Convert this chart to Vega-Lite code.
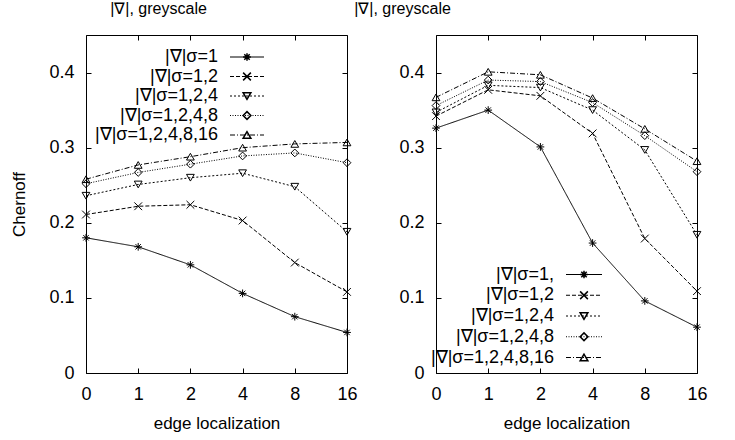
{
  "$schema": "https://vega.github.io/schema/vega-lite/v6.json",
  "background": "white",
  "padding": {"left": 10, "top": 0, "right": 10, "bottom": 5},
  "bounds": "flush",
  "spacing": 89,
  "resolve": {
    "scale": {"strokeDash": "independent", "shape": "independent"},
    "legend": {"strokeDash": "independent", "shape": "independent"}
  },
  "datasets": {
    "left": [
      {"loc": "0", "sigma": "1", "chernoff": 0.180},
      {"loc": "1", "sigma": "1", "chernoff": 0.168},
      {"loc": "2", "sigma": "1", "chernoff": 0.144},
      {"loc": "4", "sigma": "1", "chernoff": 0.106},
      {"loc": "8", "sigma": "1", "chernoff": 0.075},
      {"loc": "16", "sigma": "1", "chernoff": 0.054},
      {"loc": "0", "sigma": "1,2", "chernoff": 0.211},
      {"loc": "1", "sigma": "1,2", "chernoff": 0.222},
      {"loc": "2", "sigma": "1,2", "chernoff": 0.224},
      {"loc": "4", "sigma": "1,2", "chernoff": 0.203},
      {"loc": "8", "sigma": "1,2", "chernoff": 0.147},
      {"loc": "16", "sigma": "1,2", "chernoff": 0.108},
      {"loc": "0", "sigma": "1,2,4", "chernoff": 0.236},
      {"loc": "1", "sigma": "1,2,4", "chernoff": 0.251},
      {"loc": "2", "sigma": "1,2,4", "chernoff": 0.260},
      {"loc": "4", "sigma": "1,2,4", "chernoff": 0.266},
      {"loc": "8", "sigma": "1,2,4", "chernoff": 0.248},
      {"loc": "16", "sigma": "1,2,4", "chernoff": 0.188},
      {"loc": "0", "sigma": "1,2,4,8", "chernoff": 0.252},
      {"loc": "1", "sigma": "1,2,4,8", "chernoff": 0.267},
      {"loc": "2", "sigma": "1,2,4,8", "chernoff": 0.278},
      {"loc": "4", "sigma": "1,2,4,8", "chernoff": 0.289},
      {"loc": "8", "sigma": "1,2,4,8", "chernoff": 0.293},
      {"loc": "16", "sigma": "1,2,4,8", "chernoff": 0.280},
      {"loc": "0", "sigma": "1,2,4,8,16", "chernoff": 0.258},
      {"loc": "1", "sigma": "1,2,4,8,16", "chernoff": 0.277},
      {"loc": "2", "sigma": "1,2,4,8,16", "chernoff": 0.288},
      {"loc": "4", "sigma": "1,2,4,8,16", "chernoff": 0.300},
      {"loc": "8", "sigma": "1,2,4,8,16", "chernoff": 0.305},
      {"loc": "16", "sigma": "1,2,4,8,16", "chernoff": 0.307}
    ],
    "right": [
      {"loc": "0", "sigma": "1", "chernoff": 0.326},
      {"loc": "1", "sigma": "1", "chernoff": 0.350},
      {"loc": "2", "sigma": "1", "chernoff": 0.301},
      {"loc": "4", "sigma": "1", "chernoff": 0.173},
      {"loc": "8", "sigma": "1", "chernoff": 0.096},
      {"loc": "16", "sigma": "1", "chernoff": 0.061},
      {"loc": "0", "sigma": "1,2", "chernoff": 0.342},
      {"loc": "1", "sigma": "1,2", "chernoff": 0.377},
      {"loc": "2", "sigma": "1,2", "chernoff": 0.369},
      {"loc": "4", "sigma": "1,2", "chernoff": 0.319},
      {"loc": "8", "sigma": "1,2", "chernoff": 0.179},
      {"loc": "16", "sigma": "1,2", "chernoff": 0.109},
      {"loc": "0", "sigma": "1,2,4", "chernoff": 0.347},
      {"loc": "1", "sigma": "1,2,4", "chernoff": 0.383},
      {"loc": "2", "sigma": "1,2,4", "chernoff": 0.380},
      {"loc": "4", "sigma": "1,2,4", "chernoff": 0.350},
      {"loc": "8", "sigma": "1,2,4", "chernoff": 0.297},
      {"loc": "16", "sigma": "1,2,4", "chernoff": 0.184},
      {"loc": "0", "sigma": "1,2,4,8", "chernoff": 0.356},
      {"loc": "1", "sigma": "1,2,4,8", "chernoff": 0.390},
      {"loc": "2", "sigma": "1,2,4,8", "chernoff": 0.388},
      {"loc": "4", "sigma": "1,2,4,8", "chernoff": 0.360},
      {"loc": "8", "sigma": "1,2,4,8", "chernoff": 0.316},
      {"loc": "16", "sigma": "1,2,4,8", "chernoff": 0.268},
      {"loc": "0", "sigma": "1,2,4,8,16", "chernoff": 0.367},
      {"loc": "1", "sigma": "1,2,4,8,16", "chernoff": 0.401},
      {"loc": "2", "sigma": "1,2,4,8,16", "chernoff": 0.397},
      {"loc": "4", "sigma": "1,2,4,8,16", "chernoff": 0.366},
      {"loc": "8", "sigma": "1,2,4,8,16", "chernoff": 0.325},
      {"loc": "16", "sigma": "1,2,4,8,16", "chernoff": 0.282}
    ]
  },
  "hconcat": [
    {
      "width": 261,
      "height": 338,
      "data": {"name": "left"},
      "title": {"text": "|∇|, greyscale", "dx": -58},
      "resolve": {"axis": {"x": "independent", "y": "independent"}},
      "layer": [
        {
          "mark": {"type": "line", "color": "black", "strokeWidth": 1},
          "encoding": {
            "x": {"field": "loc", "type": "ordinal", "sort": ["0", "1", "2", "4", "8", "16"], "scale": {"type": "point", "padding": 0}, "axis": {"orient": "bottom", "title": "edge localization", "labelAngle": 0}},
            "y": {"field": "chernoff", "type": "quantitative", "scale": {"domain": [0, 0.45]}, "axis": {"orient": "left", "title": "Chernoff", "values": [0, 0.1, 0.2, 0.3, 0.4], "format": ".1~f"}},
            "strokeDash": {
              "field": "sigma", "type": "nominal",
              "scale": {"domain": ["1", "1,2", "1,2,4", "1,2,4,8", "1,2,4,8,16"], "range": [[1, 0], [4, 2], [2, 2], [1, 1.5], [5, 2, 1, 2]]},
              "legend": {"orient": "none", "legendX": 152, "legendY": 13, "title": null, "symbolType": "M-17,0L17,0", "symbolSize": 4, "symbolStrokeColor": "black", "symbolStrokeWidth": 1, "labelAlign": "right", "labelOffset": -38, "labelExpr": "'|∇|σ=' + datum.label", "labelFontSize": 18, "rowPadding": 1.5}
            }
          }
        },
        {
          "mark": {"type": "point", "filled": false, "color": "black", "strokeWidth": 1, "size": 60, "opacity": 1},
          "encoding": {
            "x": {"field": "loc", "type": "ordinal", "sort": ["0", "1", "2", "4", "8", "16"], "axis": {"orient": "top", "title": null, "labels": false}},
            "y": {"field": "chernoff", "type": "quantitative", "axis": {"orient": "right", "title": null, "labels": false, "values": [0, 0.1, 0.2, 0.3, 0.4]}},
            "shape": {
              "field": "sigma", "type": "nominal",
              "scale": {"range": ["M-1,0L1,0M0,-1L0,1M-0.7,-0.7L0.7,0.7M-0.7,0.7L0.7,-0.7", "M-1,-1L1,1M-1,1L1,-1", "triangle-down", "diamond", "triangle-up"]},
              "legend": {"orient": "none", "legendX": 152, "legendY": 13, "title": null, "symbolSize": 60, "symbolStrokeColor": "black", "symbolFillColor": "transparent", "labelOpacity": 0, "labelFontSize": 18, "rowPadding": 1.5}
            }
          }
        }
      ]
    },
    {
      "width": 261,
      "height": 338,
      "data": {"name": "right"},
      "title": {"text": "|∇|, greyscale", "dx": -164},
      "resolve": {"axis": {"x": "independent", "y": "independent"}},
      "layer": [
        {
          "mark": {"type": "line", "color": "black", "strokeWidth": 1},
          "encoding": {
            "x": {"field": "loc", "type": "ordinal", "sort": ["0", "1", "2", "4", "8", "16"], "scale": {"type": "point", "padding": 0}, "axis": {"orient": "bottom", "title": "edge localization", "labelAngle": 0}},
            "y": {"field": "chernoff", "type": "quantitative", "scale": {"domain": [0, 0.45]}, "axis": {"orient": "left", "title": null, "values": [0, 0.1, 0.2, 0.3, 0.4], "format": ".1~f"}},
            "strokeDash": {
              "field": "sigma", "type": "nominal",
              "scale": {"domain": ["1", "1,2", "1,2,4", "1,2,4,8", "1,2,4,8,16"], "range": [[1, 0], [4, 2], [2, 2], [1, 1.5], [5, 2, 1, 2]]},
              "legend": {"orient": "none", "legendX": 139, "legendY": 230.5, "title": null, "symbolType": "M-18,0L18,0", "symbolSize": 4, "symbolStrokeColor": "black", "symbolStrokeWidth": 1, "labelAlign": "right", "labelOffset": -39, "labelExpr": "datum.label == '1' ? '|∇|σ=1,' : '|∇|σ=' + datum.label", "labelFontSize": 18, "rowPadding": 2.75}
            }
          }
        },
        {
          "mark": {"type": "point", "filled": false, "color": "black", "strokeWidth": 1, "size": 60, "opacity": 1},
          "encoding": {
            "x": {"field": "loc", "type": "ordinal", "sort": ["0", "1", "2", "4", "8", "16"], "axis": {"orient": "top", "title": null, "labels": false}},
            "y": {"field": "chernoff", "type": "quantitative", "axis": {"orient": "right", "title": null, "labels": false, "values": [0, 0.1, 0.2, 0.3, 0.4]}},
            "shape": {
              "field": "sigma", "type": "nominal",
              "scale": {"range": ["M-1,0L1,0M0,-1L0,1M-0.7,-0.7L0.7,0.7M-0.7,0.7L0.7,-0.7", "M-1,-1L1,1M-1,1L1,-1", "triangle-down", "diamond", "triangle-up"]},
              "legend": {"orient": "none", "legendX": 139, "legendY": 230.5, "title": null, "symbolSize": 60, "symbolStrokeColor": "black", "symbolFillColor": "transparent", "labelOpacity": 0, "labelFontSize": 18, "rowPadding": 2.75}
            }
          }
        }
      ]
    }
  ],
  "config": {
    "font": "Liberation Sans",
    "view": {"stroke": "black", "strokeWidth": 1},
    "title": {"font": "Liberation Sans", "fontSize": 16, "fontWeight": "normal", "color": "black", "anchor": "middle", "frame": "group", "offset": 17.5},
    "axis": {
      "labelFont": "Liberation Sans", "labelFontSize": 18, "labelColor": "black",
      "titleFont": "Liberation Sans", "titleFontSize": 17, "titleFontWeight": "normal", "titleColor": "black",
      "domain": false, "grid": false, "tickColor": "black", "tickSize": -5, "labelPadding": 17
    },
    "axisX": {"titlePadding": 12},
    "axisY": {"titlePadding": 20},
    "legend": {"labelFont": "Liberation Sans", "labelColor": "black", "padding": 0}
  }
}
